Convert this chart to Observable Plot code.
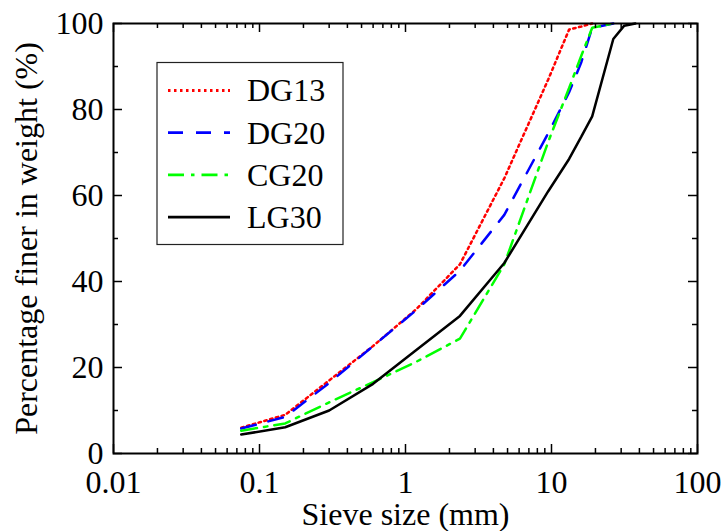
<!DOCTYPE html>
<html>
<head>
<meta charset="utf-8">
<script src="https://cdn.jsdelivr.net/npm/d3@7"></script>
<script src="https://cdn.jsdelivr.net/npm/@observablehq/plot@0.6"></script>
<style>
  html, body { margin: 0; padding: 0; background: white; overflow: hidden; }
  #wrap { position: relative; width: 725px; height: 531px; }
  #wrap svg text { font-family: 'Liberation Serif', 'Times New Roman', Times, serif !important; font-size: 32px !important; fill: black; }
  #legend { position: absolute; left: 0; top: 0; pointer-events: none; }
</style>
</head>
<body>
<div id="wrap"></div>
<script>
// ---- Data ----
const sieveSizes = [0.075, 0.15, 0.3, 0.6, 1.18, 2.36, 4.75, 9.5, 13.2, 16, 19, 26.5, 31.5, 37.5];
const dg13 = [6.0, 9.0, 17.0, 25.0, 33.5, 44.0, 64.0, 87.0, 98.6, 99.3, 100, null, null, null];
const dg20 = [5.8, 8.5, 16.4, 25.0, 33.3, 42.5, 55.5, 74.5, 84.0, 91.0, 99.0, 100, null, null];
const cg20 = [5.3, 7.0, 11.9, 16.6, 21.3, 26.7, 44.0, 72.5, 85.0, 92.5, 99.0, 100, null, null];
const lg30 = [4.4, 6.1, 10.0, 16.2, 24.0, 32.0, 44.3, 61.0, 68.5, 73.7, 78.4, 96.4, 99.5, 100];
const seriesNames = ["DG13", "DG20", "CG20", "LG30"];
const seriesValues = [dg13, dg20, cg20, lg30];
const xTickValues = [0.01, 0.1, 1, 10, 100];
const yTickValues = [0, 20, 40, 60, 80, 100];
const yMinorValues = [10, 30, 50, 70, 90];
const xLabel = "Sieve size (mm)";
const yLabel = "Percentage finer in weight (%)";

// ---- Styles ----
const styles = {
  DG13: {stroke: "#ff0000", dash: "2.5,3.5"},
  DG20: {stroke: "#0000ff", dash: "15,13"},
  CG20: {stroke: "#00ff00", dash: "16,7,3.5,7"},
  LG30: {stroke: "#000000", dash: null}
};

const W = 725, H = 531;
const mL = 113, mR = 28, mT = 23, mB = 78;
const innerW = W - mL - mR, innerH = H - mT - mB;
const FONT = "'Liberation Serif', 'Times New Roman', Times, serif";

const rows = [];
seriesNames.forEach((name, i) => {
  seriesValues[i].forEach((v, j) => {
    if (v != null) rows.push({series: name, size: sieveSizes[j], pass: v});
  });
});

const xMinorValues = [];
for (const d of [0.01, 0.1, 1, 10]) for (let m = 2; m <= 9; m++) xMinorValues.push(+(m * d).toPrecision(3));

const majorLen = 9, minorLen = 5;

const lineMarks = seriesNames.map(name => Plot.line(rows.filter(r => r.series === name), {
  x: "size", y: "pass",
  stroke: styles[name].stroke,
  strokeWidth: 2.5,
  strokeDasharray: styles[name].dash,
  strokeLinejoin: "miter",
  curve: "linear"
}));

const chart = Plot.plot({
  width: W, height: H,
  marginLeft: mL, marginRight: mR, marginTop: mT, marginBottom: mB,
  style: {fontFamily: FONT, fontSize: "32px", background: "white", color: "black"},
  x: {type: "log", domain: [0.01, 100]},
  y: {domain: [0, 100]},
  marks: [
    ...lineMarks,
    // inward ticks, bottom & top
    Plot.tickX(xTickValues, {x: d => d, insetTop: innerH - majorLen, stroke: "black", strokeWidth: 1.5}),
    Plot.tickX(xTickValues, {x: d => d, insetBottom: innerH - majorLen, stroke: "black", strokeWidth: 1.5}),
    Plot.tickX(xMinorValues, {x: d => d, insetTop: innerH - minorLen, stroke: "black", strokeWidth: 1.5}),
    Plot.tickX(xMinorValues, {x: d => d, insetBottom: innerH - minorLen, stroke: "black", strokeWidth: 1.5}),
    // inward ticks, left & right
    Plot.tickY(yTickValues, {y: d => d, insetRight: innerW - majorLen, stroke: "black", strokeWidth: 1.5}),
    Plot.tickY(yTickValues, {y: d => d, insetLeft: innerW - majorLen, stroke: "black", strokeWidth: 1.5}),
    Plot.tickY(yMinorValues, {y: d => d, insetRight: innerW - minorLen, stroke: "black", strokeWidth: 1.5}),
    Plot.tickY(yMinorValues, {y: d => d, insetLeft: innerW - minorLen, stroke: "black", strokeWidth: 1.5}),
    Plot.frame({stroke: "black", strokeWidth: 2}),
    Plot.axisX(xTickValues, {
      tickSize: 0, tickPadding: 17, tickFormat: d => String(d),
      label: xLabel, labelAnchor: "center", labelOffset: 71, labelArrow: "none",
      fontSize: 32, fontFamily: FONT, fill: "black"
    }),
    Plot.axisY(yTickValues, {
      tickSize: 0, tickPadding: 10, tickFormat: d => String(d),
      label: yLabel, labelAnchor: "center", labelOffset: 99, labelArrow: "none",
      fontSize: 32, fontFamily: FONT, fill: "black"
    })
  ]
});

const wrap = document.getElementById("wrap");
wrap.appendChild(chart);

// ---- Legend overlay ----
const leg = d3.select(wrap).append("svg")
  .attr("id", "legend")
  .attr("width", W).attr("height", H);
const box = {x: 157, y: 62.5, w: 186, h: 182};
leg.append("rect")
  .attr("x", box.x).attr("y", box.y).attr("width", box.w).attr("height", box.h)
  .attr("fill", "white").attr("stroke", "#222").attr("stroke-width", 1.2);
seriesNames.forEach((name, i) => {
  const cy = 90.5 + i * 42.2;
  leg.append("line")
    .attr("x1", 168).attr("x2", 230).attr("y1", cy).attr("y2", cy)
    .attr("stroke", styles[name].stroke).attr("stroke-width", 2.8)
    .attr("stroke-dasharray", styles[name].dash);
  leg.append("text")
    .attr("x", 247).attr("y", cy + 10.8)
    .attr("font-family", FONT).attr("font-size", 32).attr("fill", "black")
    .text(name);
});
</script>
</body>
</html>
